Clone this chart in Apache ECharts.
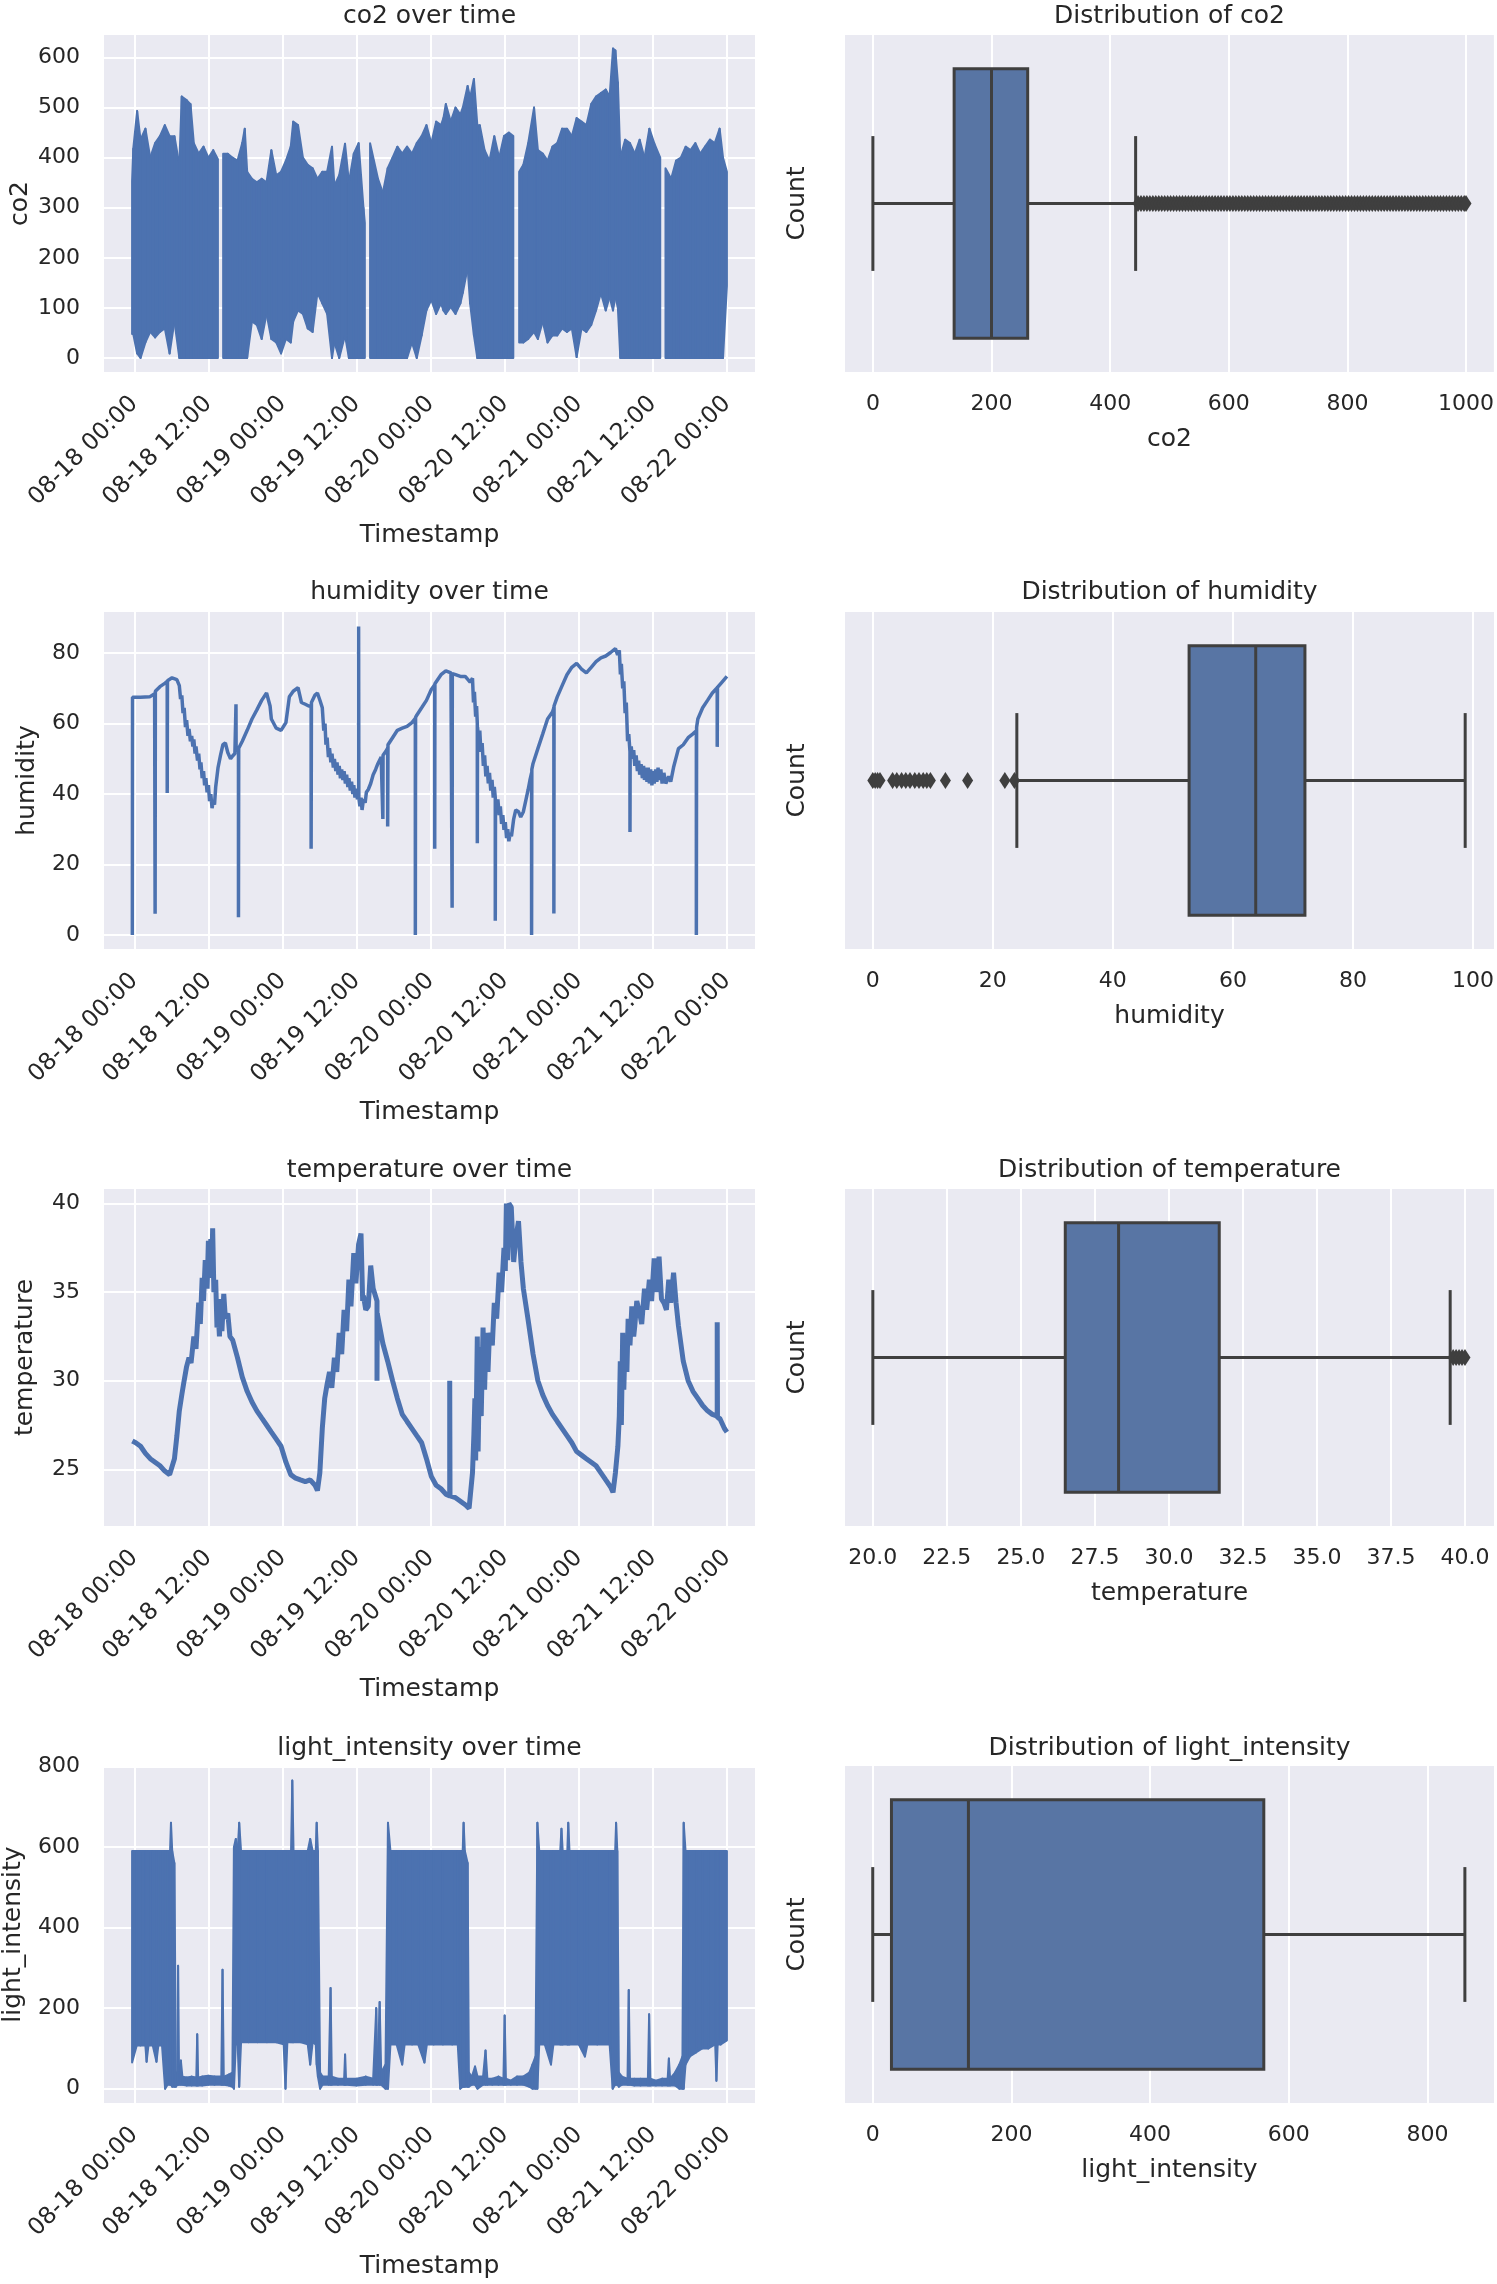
<!DOCTYPE html>
<html><head><meta charset="utf-8">
<script src="https://cdn.jsdelivr.net/npm/echarts@6/dist/echarts.min.js"></script>
<style>html,body{margin:0;padding:0;background:#fff}#c{width:1497px;height:2284px}</style>
</head><body><div id="c"></div>
<script>
// ---------------- DATA ----------------
// x positions are hours after 08-18 00:00
const xTickHours = [0, 12, 24, 36, 48, 60, 72, 84, 96];
const xTickLabels = ['08-18 00:00','08-18 12:00','08-19 00:00','08-19 12:00','08-20 00:00','08-20 12:00','08-21 00:00','08-21 12:00','08-22 00:00'];

// co2 envelope: [hour, low, high]; null marks a gap in the record
const co2Band = [
[-0.35,48,354],[-0.16,48,418],[0.47,9,493],[1.02,0,436],[1.81,31,458],[2.59,52,400],[3.38,41,429],[4.16,52,443],[4.95,59,465],[5.73,9,443],[6.51,73,443],[7.30,0,386],[7.69,0,522],[8.48,0,515],[9.11,0,507],[9.65,0,429],[10.44,0,408],[11.22,0,422],[12.01,0,400],[12.79,0,415],[13.55,0,397],
[13.97,null,null],
[14.4,0,408],[15.15,0,408],[15.93,0,400],[16.72,0,394],[17.50,0,430],[17.90,0,458],[18.29,0,372],[19.07,73,358],[19.86,66,351],[20.64,38,358],[21.43,88,351],[22.21,38,415],[23.00,31,365],[23.78,9,372],[24.57,38,394],[25.35,31,422],[25.75,73,472],[26.53,95,465],[27.32,88,400],[28.10,59,386],[28.89,52,379],[29.67,130,358],[30.46,109,372],[31.24,88,372],[32.03,0,422],[32.42,31,344],[33.20,0,365],[34.14,45,428],[34.77,0,351],[35.56,0,408],[36.34,0,429],[37.13,0,300],[37.35,0,270],
[37.76,null,null],
[38.2,0,429],[39.48,0,358],[40.27,0,330],[41.05,0,379],[41.84,0,400],[42.62,0,422],[43.41,0,408],[44.19,0,422],[44.98,31,408],[45.76,0,429],[46.55,45,443],[47.33,95,465],[48.12,116,429],[48.90,88,472],[49.69,109,465],[50.08,95,479],[50.47,88,507],[51.26,102,472],[52.04,88,500],[52.83,109,486],[53.22,130,500],[54.00,180,543],[54.40,109,520],[55.02,45,557],[55.57,0,465],[55.97,0,465],[56.75,0,415],[57.54,0,394],[58.32,0,443],[59.11,0,400],[59.89,0,443],[60.68,0,450],[61.40,0,443],
[61.93,null,null],
[62.35,31,372],[63.03,31,386],[63.81,38,429],[64.76,52,500],[65.38,38,415],[66.17,73,408],[66.95,31,394],[67.74,45,422],[68.52,45,429],[69.31,59,458],[70.09,52,458],[70.88,59,443],[71.66,2,479],[72.45,59,472],[73.23,52,465],[74.02,66,507],[74.80,95,522],[75.59,130,529],[76.37,95,536],[77.00,122,522],[77.55,95,618],[77.94,122,614],[78.34,100,550],[78.73,0,400],[79.51,0,436],[80.30,0,429],[81.08,0,408],[81.87,0,436],[82.65,0,400],[83.44,0,458],[84.22,0,429],[85.20,0,400],
[85.64,null,null],
[86.05,0,379],[86.97,0,358],[87.76,0,394],[88.54,0,400],[89.32,0,422],[90.11,0,415],[90.89,0,429],[91.68,0,408],[92.46,0,422],[93.25,0,436],[94.03,0,429],[94.82,0,458],[95.37,0,400],[96.00,144,372]
];

// humidity: [hour, value]
const humidityPoints = [
[-0.31,0],[-0.28,67.5],[1.0,67.5],[2.5,67.6],[3.3,68.5],[3.38,69],[3.38,6],[3.42,69.2],[4.16,70.5],[5.0,71.5],[5.34,72],[5.34,40.3],[5.38,72.2],
[6.12,73],[6.9,72.5],[7.3,70.8],[7.5,67],[7.7,68],[7.9,63],[8.08,64.5],[8.3,59],[8.48,61],[8.7,56.5],[8.87,58.5],[9.1,55],[9.3,56.5],[9.5,53.5],[9.65,55.5],[9.85,51.5],[10.0,53.5],[10.25,49.5],[10.44,51.5],[10.65,47],[10.8,49],[11.0,44.5],[11.22,46.5],[11.4,42.5],[11.6,44.5],[11.8,40.5],[12.01,42.5],[12.2,38],[12.4,40],[12.6,36],[12.79,38],[13.0,37],[13.19,42],[13.58,47.6],[13.97,51],[14.36,54],[14.76,54.5],[15.15,51.8],[15.6,50],[15.93,50.8],[16.3,51.5],
[16.48,52],[16.48,65.5],[16.5,52.2],[16.88,52.7],[16.88,5],[16.92,53],
[17.5,55],[18.29,58.1],[19.07,61.3],[19.86,63.9],[20.64,66.6],[21.43,68.7],[21.66,69.2],[22.0,65],[22.21,61.3],[23.0,58.7],[23.78,58.1],[24.57,60.3],[25.12,67.6],[25.75,69.2],[26.53,70.2],[27.08,66],[27.71,65.5],[28.26,65],
[28.65,65],[28.65,24.5],[28.7,66],
[29.28,68.1],[29.67,68.7],[30.1,66.5],[30.46,64.5],[30.7,58],[30.9,60],[31.05,54],[31.24,56],[31.45,50.5],[31.63,53],[31.85,49],[32.03,51.5],[32.25,47.5],[32.42,50],[32.65,46.5],[32.85,49],[33.0,45.5],[33.2,48],[33.4,44.5],[33.6,47],[33.8,44],[33.99,46.5],[34.2,43],[34.4,45.5],[34.6,42],[34.77,44.5],[35.0,41],[35.2,43.5],[35.4,40],[35.56,42.5],[35.75,39],[35.95,41.5],[36.15,38.5],
[36.34,40],[36.34,87.6],[36.38,39],
[36.55,36.5],[36.73,39],[36.9,35.5],[37.13,38.5],[37.4,37.5],[37.6,40.5],[37.91,41.3],[38.3,43],[38.7,45.5],[39.1,47],[39.48,48.7],[40.0,50.5],
[40.27,50.8],[40.27,32.9],[40.3,51],[40.7,52],[41.05,53],[41.05,30.8],[41.1,54],
[41.84,56],[42.62,58.1],[43.41,58.7],[44.19,59.2],[44.98,60.3],
[45.53,61.5],[45.53,0],[45.57,61.8],
[45.76,62.4],[46.55,64.5],[47.33,66.6],[48.12,69.7],
[48.67,71],[48.67,24.5],[48.7,71.3],
[48.9,71.8],[49.69,73.9],[50.47,75],[51.3,74.4],
[51.49,74.2],[51.49,7.7],[51.52,74.2],
[52.04,73.9],[52.83,73.4],[53.61,73.4],[54.4,71.8],[54.79,72.9],[54.95,66],[55.1,69],[55.3,62],[55.45,65],
[55.57,60],[55.57,26],[55.6,59],
[55.75,56],[55.97,58],[56.15,52],[56.35,54.5],[56.55,48],[56.75,51],[56.95,45],[57.15,48],[57.35,43],[57.54,46],[57.75,41],[57.95,44],[58.15,39],[58.32,42],
[58.48,39],[58.48,4],[58.52,38.5],
[58.7,36],[58.9,38.5],[59.11,34],[59.3,36.5],[59.5,31.5],[59.7,34],[59.89,29.8],[60.1,32],[60.3,27.5],[60.5,30],[60.68,26.6],[60.9,29],[61.1,28],[61.46,32.9],[61.8,35.5],[62.24,35],[62.6,33.5],[63.03,35],[63.4,38],[63.81,41.3],[64.1,44],
[64.36,46],[64.36,0],[64.4,47],
[64.6,48.7],[65.38,52.9],[66.17,57.1],[66.95,61.3],[67.74,63.3],
[67.97,64.5],[67.97,6.1],[68.0,65],
[68.52,67.6],[69.31,70.8],[70.09,73.9],[70.88,76],[71.66,77.1],[72.45,75.5],[73.23,74.4],[74.02,76],[74.8,77.6],[75.59,78.7],[76.37,79.2],[77.16,80.2],[77.94,81.3],[78.3,79.5],[78.57,80.8],[78.75,74],[78.9,77],[79.12,70],[79.3,72],[79.51,63],[79.7,66],[79.91,55],[80.1,57],
[80.3,52],[80.3,29.2],[80.33,52],
[80.5,53.5],[80.69,50],[80.9,52.5],[81.08,48],[81.3,51],[81.5,46.5],[81.7,49.5],[81.87,45.5],[82.1,48.5],[82.3,44.5],[82.5,48],[82.65,44],[82.85,47.5],[83.05,43.5],[83.25,47.5],[83.44,43],[83.65,47],[83.85,42.5],[84.05,46.5],[84.22,43],[84.45,47],[84.65,43.5],[84.85,47.5],[85.01,44],[85.3,47],[85.5,43],[85.79,46],[86.1,43],[86.58,45],[86.9,43.5],[87.36,47.6],[88.15,52.9],[88.93,54],[89.72,56],[90.5,57.1],
[91.05,58],[91.05,0],[91.09,59],
[91.29,61.3],[92.07,64.5],[92.86,66.6],[93.64,68.7],
[94.43,70.2],[94.43,53.4],[94.47,70.3],
[95.21,71.8],[96.0,73.4]
];

// temperature: [hour, value]
const temperaturePoints = [
[-0.31,26.6],[0.24,26.5],[1.02,26.3],[1.81,25.9],[2.59,25.6],[3.38,25.4],[4.16,25.2],[4.95,24.9],[5.73,24.7],[6.0,24.6],[6.51,25.6],[6.91,26.9],[7.3,28.3],[7.7,29.2],[8.08,30],[8.48,30.8],[8.87,31.3],[9.2,31.0],[9.65,32.5],[10.0,31.8],[10.44,34.4],[10.7,33.2],[11.0,35.8],[11.22,34.5],[11.5,36.8],[11.8,35.2],[12.01,37.9],[12.2,35.8],[12.4,38.0],[12.56,36.2],[12.7,38.6],[12.9,35],[13.19,35.7],[13.4,33.0],[13.58,34.0],[13.8,32.5],[14.0,34.6],[14.2,32.8],[14.5,34.9],[14.76,33.5],[15.15,33.8],[15.5,32.5],[15.93,32.3],[16.72,31.3],[17.5,30.2],[18.29,29.4],[19.07,28.8],[19.86,28.3],[20.64,27.9],[21.43,27.5],[22.21,27.1],[23.0,26.7],[23.78,26.3],[24.57,25.4],[25.35,24.7],[26.14,24.5],[26.92,24.4],[27.71,24.3],[28.49,24.4],[29.28,24.1],[29.67,23.8],[30.06,24.8],[30.46,27.3],[30.85,29],[31.24,29.8],[31.63,30.5],[32.0,29.6],[32.42,31.3],[32.8,30.5],[33.2,32.7],[33.6,31.5],[33.99,34],[34.4,32.8],[34.77,35.7],[35.1,34.2],[35.56,37.2],[35.9,35.5],[36.34,37.7],[36.73,38.3],[37.0,34.5],[37.13,34.8],[37.5,34.0],[37.91,34.2],[38.3,36.5],[38.7,35.2],[39.32,34.5],[39.32,30],[39.36,33.8],[39.48,33.8],[40.27,32.1],[41.05,31.1],[41.84,30],[42.62,29],[43.41,28.1],[44.19,27.7],[44.98,27.3],[45.76,26.9],[46.55,26.5],[47.33,25.6],[48.12,24.6],[48.9,24.1],[49.69,23.9],[50.47,23.6],[51.1,23.5],[51.1,30],[51.15,23.5],[52.04,23.4],[52.83,23.2],[53.61,23.0],[54.24,22.8],[54.79,24.8],[55.02,27],[55.18,29],[55.3,25.5],[55.57,32.5],[55.7,26],[55.97,31.9],[56.2,28],[56.5,33],[56.75,29.5],[57.0,32.7],[57.3,30.5],[57.54,32.7],[58.0,32],[58.32,34.4],[58.7,33.5],[59.11,36.1],[59.5,35],[59.89,37.5],[60.1,36.2],[60.28,40],[60.5,36.8],[60.68,40],[61.07,39.8],[61.46,36.7],[61.8,38],[62.24,39],[62.64,36.7],[63.03,35.2],[63.81,33.4],[64.6,31.5],[65.38,30],[66.17,29.2],[66.95,28.6],[67.74,28.1],[68.52,27.7],[69.31,27.3],[70.09,26.9],[70.88,26.5],[71.66,26],[72.45,25.8],[73.23,25.6],[74.02,25.4],[74.8,25.2],[75.59,24.8],[76.37,24.4],[77.16,24.0],[77.55,23.7],[77.94,24.8],[78.34,26.3],[78.57,28],[78.73,31.1],[78.9,27.5],[79.12,32.7],[79.3,29.5],[79.51,32.3],[79.8,30.5],[80.0,33.5],[80.3,32],[80.6,34.2],[80.9,32.5],[81.08,33.1],[81.4,34.5],[81.87,33.8],[82.2,33.2],[82.65,35.2],[83.0,34],[83.44,35.7],[83.8,34.5],[84.22,36.9],[84.6,35],[85.01,37],[85.4,34.6],[85.79,34.4],[86.2,34],[86.58,35.7],[86.9,34.4],[87.36,36.1],[87.76,34.4],[88.15,33.1],[88.93,31.1],[89.72,30],[90.5,29.4],[91.29,29],[92.07,28.6],[92.86,28.3],[93.64,28.1],[94.43,28.0],[94.43,33.3],[94.47,27.9],[94.82,27.9],[95.6,27.3],[96.0,27.1]
];

// light_intensity envelope: [hour, low, high]
const lightBand = [
[-0.35,65,590],[0.4,107,590],[1.0,107,590],[1.8,107,590],[2.0,67,590],[2.3,107,590],[3.0,107,590],[3.6,67,590],[3.9,107,590],[4.5,107,590],[5.0,0,590],[5.4,10,590],[5.8,10,590],[5.95,10,660],[6.15,5,590],[6.5,5,560],[6.75,5,40],[7.0,10,40],[7.1,10,305],[7.25,10,40],[7.55,10,70],[7.8,10,30],[8.5,8,28],[9.3,8,30],[10.05,8,28],[10.2,8,135],[10.35,8,28],[11.0,8,30],[12.0,10,32],[13.0,10,30],[14.1,10,30],[14.3,10,295],[14.5,10,30],[15.3,8,35],[15.9,5,40],
[16.15,0,600],[16.45,110,620],[16.75,110,590],[17.0,5,660],[17.3,115,590],[18.5,115,590],[20.0,115,590],[21.5,115,590],[23.0,115,590],[24.2,110,590],[24.5,0,590],[24.8,115,590],[25.4,115,590],[25.6,115,765],[25.8,115,590],[27.0,115,590],[28.1,110,590],[28.5,60,620],[28.9,115,590],[29.4,110,590],[29.55,60,660],[29.75,30,590],[30.1,0,40],
[30.5,10,30],[31.5,10,30],[31.8,10,250],[32.0,10,30],[33.0,10,25],[34.0,10,25],[34.15,10,85],[34.3,10,25],[36.0,8,25],[37.5,10,30],[38.7,10,25],[39.2,10,200],[39.4,10,30],[39.75,10,215],[40.0,10,40],[40.7,0,60],
[41.1,0,660],[41.5,110,590],[42.5,110,590],[43.4,60,590],[43.8,110,590],[45.0,110,590],[46.0,110,590],[47.0,65,590],[47.4,110,590],[48.5,110,590],[50.0,110,590],[51.5,110,590],[52.4,110,590],[52.8,0,590],[53.2,5,590],[53.35,5,660],[53.55,5,590],[54.0,5,560],[54.2,5,40],
[54.7,10,30],[55.2,10,55],[55.6,0,30],[56.5,10,30],[56.9,10,95],[57.2,10,25],[58.0,10,25],[59.0,10,30],[59.8,10,25],[60.0,10,182],[60.2,10,25],[61.0,10,20],[62.0,10,30],[63.0,10,30],[64.0,5,40],[64.5,0,60],[65.0,0,80],
[65.3,0,660],[65.6,110,590],[66.5,110,590],[67.5,60,590],[67.9,110,590],[69.0,110,590],[69.2,110,645],[69.4,110,590],[70.15,110,590],[70.3,110,660],[70.5,110,590],[72.0,110,590],[73.0,80,590],[73.4,110,590],[75.0,110,590],[77.0,110,590],[77.5,0,590],[77.9,10,590],[78.05,10,660],[78.25,10,590],[78.5,5,40],
[79.0,10,30],[79.9,10,25],[80.1,10,245],[80.3,10,25],[81.0,8,25],[82.0,8,25],[83.2,8,25],[83.4,8,185],[83.6,8,25],[84.5,8,20],[85.5,8,25],[86.4,8,25],[86.6,8,75],[86.8,8,25],[87.6,8,40],[88.3,0,60],[88.8,0,80],
[89.0,0,660],[89.3,60,590],[90.0,80,590],[91.0,90,590],[92.0,100,590],[93.0,100,590],[94.1,110,590],[94.3,20,590],[94.5,110,590],[95.0,110,590],[96.0,120,590]
];

// box plot statistics: [lower whisker, Q1, median, Q3, upper whisker]
const co2Box = [0, 137, 200, 261, 443];
const humidityBox = [24.0, 52.7, 63.8, 72.0, 98.7];
const temperatureBox = [20.0, 26.5, 28.3, 31.7, 39.5];
const lightBox = [0, 27, 138, 564, 854];

// outliers
const co2Outliers = [447,452,457,462,467,472,477,482,487,492,497,502,507,512,517,522,527,532,537,542,547,552,557,562,567,572,577,582,587,592,597,602,607,612,617,622,627,632,637,642,647,652,657,662,667,672,677,682,687,692,697,702,707,712,717,722,727,732,737,742,747,752,757,762,767,772,777,782,787,792,797,802,807,812,817,822,827,832,837,842,847,852,857,862,867,872,877,882,887,892,897,902,907,912,917,922,927,932,937,942,947,952,957,962,967,972,977,982,987,992,997,1000];
const humidityOutliers = [0,0.4,0.8,1.2,3.3,4,4.8,5.5,6.2,7,7.7,8.4,9,9.6,12.1,15.8,22.0,23.6];
const temperatureOutliers = [39.6,39.7,39.8,39.9,40.0];
const lightOutliers = [];

// ---------------- CHART ----------------
const BLUE = '#4C72B0', BOXFILL = '#5875A4', EDGE = '#3F3F3F', BG = '#EAEAF2', TXT = '#262626';
const FONT = 'DejaVu Sans';

const rowTops = [35, 612, 1189, 1766], rowH = 337;
const titleY = [16.5, 592, 1170, 1748];

const grids = [];
rowTops.forEach(t => grids.push({left: 104, top: t, width: 651, height: rowH, show: true, backgroundColor: BG, borderWidth: 0}));
rowTops.forEach(t => grids.push({left: 845, top: t, width: 649, height: rowH, show: true, backgroundColor: BG, borderWidth: 0}));

const txt = (s) => ({fontSize: s, color: TXT, fontFamily: FONT});
const white = {show: true, lineStyle: {color: '#ffffff', width: 2}};

const xAxes = [], yAxes = [];
for (let i = 0; i < 4; i++) {
  xAxes.push({type: 'value', gridIndex: i, min: -4.9, max: 100.55,
    axisLine: {show: false}, axisTick: {show: false, customValues: xTickHours},
    axisLabel: Object.assign({customValues: xTickHours, rotate: 45, margin: 28,
      formatter: v => xTickLabels[xTickHours.indexOf(v)]}, txt(23.5)),
    splitLine: white,
    name: 'Timestamp', nameLocation: 'middle', nameGap: 151, nameTextStyle: txt(25)});
}
const leftY = [
  {min: -28, max: 645, ticks: [0,100,200,300,400,500,600], name: 'co2', gap: 71},
  {min: -4, max: 91.7, ticks: [0,20,40,60,80], name: 'humidity', gap: 64},
  {min: 21.8, max: 40.82, ticks: [25,30,35,40], name: 'temperature', gap: 66},
  {min: -35.5, max: 801, ticks: [0,200,400,600,800], name: 'light_intensity', gap: 78}
];
leftY.forEach((a, i) => yAxes.push({type: 'value', gridIndex: i, min: a.min, max: a.max,
  axisLine: {show: false}, axisTick: {show: false, customValues: a.ticks},
  axisLabel: Object.assign({customValues: a.ticks, margin: 24}, txt(22)),
  splitLine: white, name: a.name, nameLocation: 'middle', nameRotate: 90, nameGap: a.gap, nameTextStyle: txt(25)}));

const rightX = [
  {min: -47, max: 1047, ticks: [0,200,400,600,800,1000], name: 'co2', fmt: v => String(v)},
  {min: -4.63, max: 103.5, ticks: [0,20,40,60,80,100], name: 'humidity', fmt: v => String(v)},
  {min: 19.06, max: 40.98, ticks: [20,22.5,25,27.5,30,32.5,35,37.5,40], name: 'temperature', fmt: v => v.toFixed(1)},
  {min: -40, max: 896, ticks: [0,200,400,600,800], name: 'light_intensity', fmt: v => String(v)}
];
rightX.forEach((a, i) => {
  xAxes.push({type: 'value', gridIndex: 4 + i, min: a.min, max: a.max,
    axisLine: {show: false}, axisTick: {show: false, customValues: a.ticks},
    axisLabel: Object.assign({customValues: a.ticks, margin: 21, formatter: a.fmt}, txt(22)),
    splitLine: white, name: a.name, nameLocation: 'middle', nameGap: 55, nameTextStyle: txt(25)});
  yAxes.push({type: 'value', gridIndex: 4 + i, min: -0.5, max: 0.5,
    axisLine: {show: false}, axisTick: {show: false}, axisLabel: {show: false}, splitLine: {show: false},
    name: 'Count', nameLocation: 'middle', nameRotate: 90, nameGap: 35, nameTextStyle: txt(25)});
});

const titles = [];
['co2 over time','humidity over time','temperature over time','light_intensity over time'].forEach((t, i) =>
  titles.push({text: t, left: 429.5, top: titleY[i], textAlign: 'center', textVerticalAlign: 'middle', padding: 0, textStyle: Object.assign({fontWeight: 'normal'}, txt(25))}));
['Distribution of co2','Distribution of humidity','Distribution of temperature','Distribution of light_intensity'].forEach((t, i) =>
  titles.push({text: t, left: 1169.5, top: titleY[i], textAlign: 'center', textVerticalAlign: 'middle', padding: 0, textStyle: Object.assign({fontWeight: 'normal'}, txt(25))}));

function bandSeries(band, idx) {
  const data = [];
  for (let i = 0; i < band.length - 1; i++) {
    const p = band[i], q = band[i + 1];
    if (p[1] == null || q[1] == null) continue;
    data.push([p[0], p[1], p[2], q[0], q[1], q[2]]);
  }
  return {type: 'custom', xAxisIndex: idx, yAxisIndex: idx, data,
    encode: {x: [0, 3], y: [1, 2, 4, 5]},
    renderItem: (params, api) => {
      const a = api.coord([api.value(0), api.value(1)]);
      const b = api.coord([api.value(0), api.value(2)]);
      const c = api.coord([api.value(3), api.value(5)]);
      const d = api.coord([api.value(3), api.value(4)]);
      return {type: 'polygon', shape: {points: [a, b, c, d]}, style: {fill: BLUE, stroke: BLUE, lineWidth: 2, lineJoin: 'round'}};
    }, silent: true, z: 3};
}
function lineSeries(points, idx, w) {
  return {type: 'line', xAxisIndex: idx, yAxisIndex: idx, data: points, symbol: 'none',
    lineStyle: {color: BLUE, width: w}, animation: false, silent: true, z: 3};
}
function boxSeries(stats, idx) {
  return {type: 'custom', xAxisIndex: idx, yAxisIndex: idx, data: [stats.concat([0])],
    encode: {x: [0, 1, 2, 3, 4], y: 5}, z: 3, silent: true,
    renderItem: (params, api) => {
      const P = (x, y) => api.coord([x, y]);
      const lo = api.value(0), q1 = api.value(1), md = api.value(2), q3 = api.value(3), hi = api.value(4);
      const s = {stroke: EDGE, lineWidth: 3};
      const L = (p, q) => ({type: 'line', shape: {x1: p[0], y1: p[1], x2: q[0], y2: q[1]}, style: s});
      const tl = P(q1, 0.4), br = P(q3, -0.4);
      return {type: 'group', children: [
        L(P(lo, 0), P(q1, 0)), L(P(q3, 0), P(hi, 0)),
        L(P(lo, 0.2), P(lo, -0.2)), L(P(hi, 0.2), P(hi, -0.2)),
        {type: 'rect', shape: {x: tl[0], y: tl[1], width: br[0] - tl[0], height: br[1] - tl[1]}, style: {fill: BOXFILL, stroke: EDGE, lineWidth: 3}},
        L(P(md, 0.4), P(md, -0.4))
      ]};
    }};
}
function outlierSeries(vals, idx) {
  return {type: 'scatter', xAxisIndex: idx, yAxisIndex: idx, data: vals.map(v => [v, 0]),
    symbol: 'diamond', symbolSize: [11, 17], itemStyle: {color: EDGE, opacity: 1}, z: 4, silent: true};
}

const series = [
  bandSeries(co2Band, 0), lineSeries(humidityPoints, 1, 3.5), lineSeries(temperaturePoints, 2, 5), bandSeries(lightBand, 3),
  boxSeries(co2Box, 4), outlierSeries(co2Outliers, 4),
  boxSeries(humidityBox, 5), outlierSeries(humidityOutliers, 5),
  boxSeries(temperatureBox, 6), outlierSeries(temperatureOutliers, 6),
  boxSeries(lightBox, 7), outlierSeries(lightOutliers, 7)
];

const chart = echarts.init(document.getElementById('c'), null, {renderer: 'canvas'});
chart.setOption({animation: false, backgroundColor: '#ffffff', title: titles, grid: grids, xAxis: xAxes, yAxis: yAxes, series});
</script></body></html>
